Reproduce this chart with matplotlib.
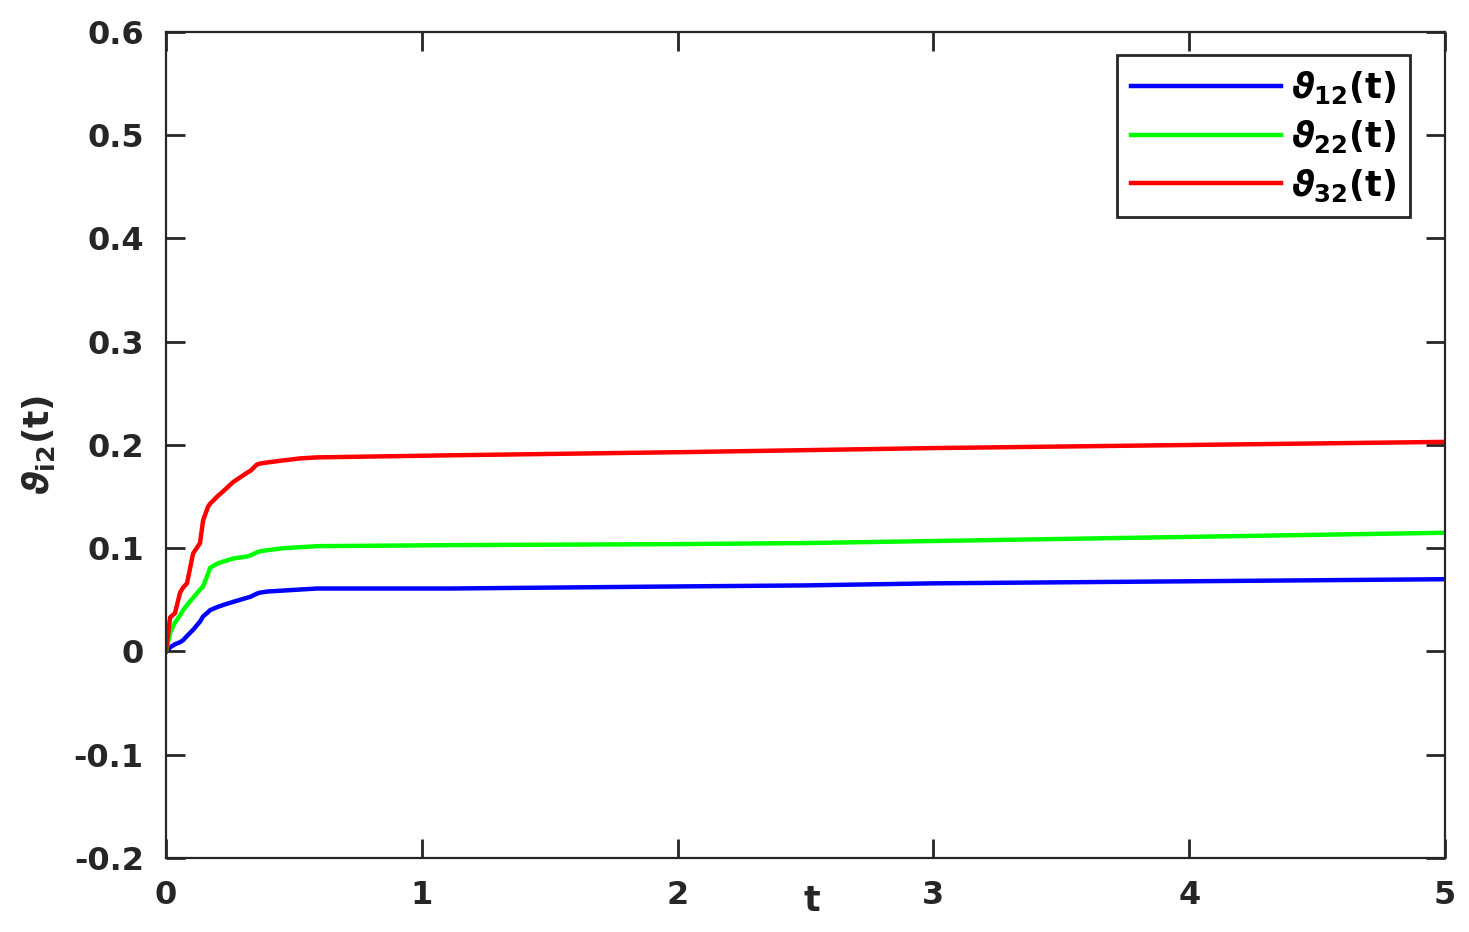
import matplotlib.pyplot as plt
import numpy as np

plt.rcParams['font.family'] = ['DejaVu Sans']
plt.rcParams['font.weight'] = 'bold'
plt.rcParams['mathtext.fontset'] = 'custom'
plt.rcParams['mathtext.rm'] = 'DejaVu Sans:bold'
plt.rcParams['mathtext.bf'] = 'DejaVu Sans:bold'
plt.rcParams['mathtext.it'] = 'DejaVu Sans:bold:italic'
plt.rcParams['mathtext.default'] = 'it'

# values
t = [0, 0.016, 0.035, 0.055, 0.067, 0.082, 0.106, 0.133, 0.145, 0.164, 0.172,
     0.2, 0.223, 0.262, 0.316, 0.33, 0.355, 0.367, 0.394, 0.457, 0.524, 0.59,
     1.11, 2.0, 2.5, 3.0, 4.0, 5.0]
v12 = [0, 0.004, 0.007, 0.009, 0.011, 0.015, 0.021, 0.029, 0.034, 0.038, 0.040,
       0.043, 0.045, 0.048, 0.052, 0.053, 0.056, 0.057, 0.058, 0.059, 0.060, 0.061,
       0.061, 0.063, 0.064, 0.066, 0.068, 0.070]
v22 = [0, 0.018, 0.028, 0.035, 0.040, 0.045, 0.052, 0.060, 0.063, 0.075, 0.081,
       0.085, 0.087, 0.090, 0.092, 0.093, 0.096, 0.097, 0.098, 0.100, 0.101, 0.102,
       0.103, 0.104, 0.105, 0.107, 0.111, 0.115]
v32 = [0, 0.033, 0.037, 0.057, 0.062, 0.066, 0.095, 0.105, 0.127, 0.140, 0.143,
       0.150, 0.155, 0.164, 0.173, 0.175, 0.181, 0.182, 0.183, 0.185, 0.187, 0.188,
       0.190, 0.193, 0.195, 0.197, 0.200, 0.203]
xticks = [0, 1, 2, 3, 4, 5]
yticks = [-0.2, -0.1, 0, 0.1, 0.2, 0.3, 0.4, 0.5, 0.6]
ylabels = ['-0.2', '-0.1', '0', '0.1', '0.2', '0.3', '0.4', '0.5', '0.6']

fig = plt.figure(figsize=(14.69, 9.32), dpi=100)
ax = fig.add_axes([0.113, 0.0794, 0.8707, 0.8863])

ax.plot(t, v12, color='#0000ff', lw=3.2, label=r'$\vartheta_{12}$(t)')
ax.plot(t, v22, color='#00ff00', lw=3.2, label=r'$\vartheta_{22}$(t)')
ax.plot(t, v32, color='#ff0000', lw=3.2, label=r'$\vartheta_{32}$(t)')

ax.set_xlim(0, 5)
ax.set_ylim(-0.2, 0.6)
ax.set_xticks(xticks)
ax.set_yticks(yticks)
ax.set_yticklabels(ylabels)
ax.tick_params(direction='in', length=14, width=2, top=True, right=True,
               labelsize=23, colors='#262626', pad=16)
for s in ax.spines.values():
    s.set_linewidth(1.6)
    s.set_color('#262626')

ax.set_xlabel('t', fontsize=25, color='#262626', fontweight='bold')
ax.xaxis.set_label_coords(0.505, -0.032)
ax.set_ylabel(r'$\vartheta_{\mathrm{i2}}$(t)', fontsize=26, color='#262626',
              fontweight='bold')
ax.yaxis.set_label_coords(-0.085, 0.5)

leg = ax.legend(loc='upper right', bbox_to_anchor=(0.9726, 0.972),
                borderaxespad=0, fontsize=25, handlelength=4.3,
                fancybox=False, framealpha=1, edgecolor='#262626',
                labelspacing=0.35, borderpad=0.4, handletextpad=0.3)
leg.get_frame().set_linewidth(2)

plt.savefig('out.png', dpi=100)
